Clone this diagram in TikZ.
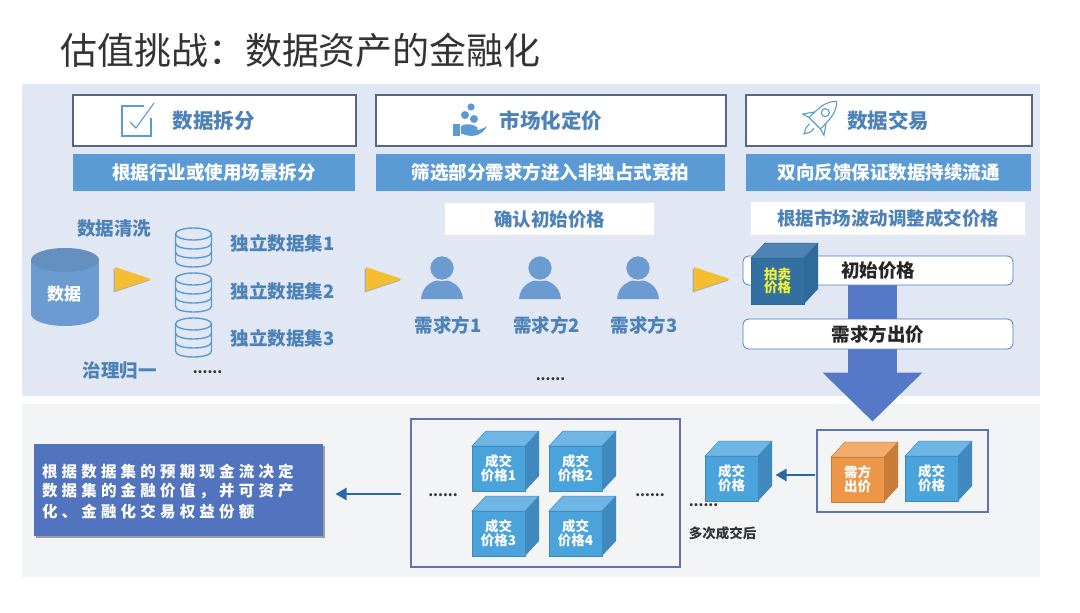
\documentclass[tikz,border=0pt]{standalone}
\usepackage{fontspec}
\setmainfont{Noto Sans CJK SC}
\usetikzlibrary{arrows.meta,shadows}
\definecolor{bandA}{HTML}{E1E7F3}
\definecolor{bandB}{HTML}{F3F4F6}
\definecolor{headline}{HTML}{5A6680}
\definecolor{barblue}{HTML}{5B9BD5}
\definecolor{labelblue}{HTML}{4C82B8}
\definecolor{iconblue}{HTML}{6C9BD2}
\definecolor{goldtri}{HTML}{F5BD30}
\definecolor{bigblue}{HTML}{5579C6}
\definecolor{framec}{HTML}{6272AE}
\definecolor{arrowblue}{HTML}{2A69A8}
\definecolor{cubeF}{HTML}{4BA3DC}
\definecolor{cubeT}{HTML}{6FB5E6}
\definecolor{cubeS}{HTML}{4089BF}
\definecolor{orgF}{HTML}{EE9648}
\definecolor{orgT}{HTML}{F2AC6D}
\definecolor{orgS}{HTML}{C97C38}
\definecolor{aucF}{HTML}{34709F}
\definecolor{aucT}{HTML}{4E84B4}
\definecolor{aucS}{HTML}{2F6A9A}
\definecolor{auctext}{HTML}{F2F23A}
\newcommand{\fsz}[1]{\fontsize{#1}{#1}\selectfont}
\tikzset{
  base/.style={inner sep=0pt,outer sep=0pt},
  headbox/.style={base,draw=headline,line width=1.1pt,fill=white},
  subbar/.style={base,fill=barblue,text=white,font=\bfseries\fsz{18.5}},
  whitebar/.style={base,fill=white,text=labelblue,font=\bfseries\fsz{18.5}},
  headtext/.style={base,text=labelblue,font=\bfseries\fsz{20.5}},
  bluelabel/.style={base,text=labelblue,font=\bfseries\fsz{18.5}},
  dotrow/.style={base,text=black!80,font=\bfseries\fsz{14}},
  pricebox/.style={base,draw=labelblue,line width=.8pt,fill=white,rounded corners=6pt,text=black!85,font=\bfseries\fsz{18.5}},
  frameb/.style={base,draw=framec,line width=1.2pt,fill=none},
  goldarrow/.style={fill=goldtri,drop shadow={shadow xshift=-1.5pt,shadow yshift=-1.5pt,opacity=.25,fill=black}},
  iconline/.style={draw=barblue,line width=1.4pt,fill=none},
  thinarrow/.style={draw=arrowblue,line width=2.4pt,-{Triangle[length=11pt,width=12pt]}},
  cubetext/.style={base,text=white,font=\bfseries\fsz{13.5},align=center},
}
\newcommand{\cubeat}[9]{% name, x0, y0, x1, y1, front, top, side, text
  \node[cubetext,fill=#6,draw=#8,line width=.5pt,minimum width=#4pt-#2pt,minimum height=#5pt-#3pt,anchor=north west] (#1) at (#2,#3) {#9};
  \fill[#7,draw=#8,line width=.5pt] (#1.north west) -- ++(14,-15) -- ++(#4-#2,0) -- (#1.north east) -- cycle;
  \fill[#8] (#1.north east) -- ++(14,-15) -- ++(0,#5-#3) -- (#1.south east) -- cycle;
}
\newcommand{\blucube}[4]{\cubeat{#1}{#2}{#3}{#2+53}{#3+45}{cubeF}{cubeT}{cubeS}{#4}}
\newcommand{\dbicon}[2]{% x centre, y top
  \begin{scope}[shift={(#1,#2)},iconline]
    \draw (0,6) ellipse [x radius=18pt,y radius=6pt];
    \draw (-18,6) -- (-18,33) .. controls (-18,41) and (18,41) .. (18,33) -- (18,6);
    \draw (-18,15) .. controls (-18,23) and (18,23) .. (18,15);
    \draw (-18,24) .. controls (-18,32) and (18,32) .. (18,24);
  \end{scope}
}
\newcommand{\person}[1]{%
  \begin{scope}[shift={(#1,0)}]
    \fill[iconblue] (-21,299) .. controls (-20,287) and (-11,280) .. (0,280) .. controls (11,280) and (20,287) .. (21,299) -- cycle;
    \fill[iconblue,draw=bandA,line width=1.5pt] (0,268) circle [radius=12.5pt];
  \end{scope}
}
\newcommand{\goldtri}[1]{\fill[goldarrow] (#1,267) -- (#1+36,279) -- (#1,291) -- cycle;}
\begin{document}
\begin{tikzpicture}[x=1pt,y=-1pt]
\useasboundingbox (0,0) rectangle (1080,613);
\fill[white] (0,0) rectangle (1080,613);
\node[base,anchor=west,text=black!80,font=\fsz{37}] (title) at (60,50) {估值挑战：数据资产的金融化};
\fill[bandA] (22,84) rectangle (1040,396);
\fill[bandB] (22,404) rectangle (1040,577);

% header boxes
\node[headbox,minimum width=283pt,minimum height=51pt,anchor=north west] (h1) at (73,95) {};
\node[headbox,minimum width=350pt,minimum height=51pt,anchor=north west] (h2) at (376,95) {};
\node[headbox,minimum width=286pt,minimum height=51pt,anchor=north west] (h3) at (746,95) {};
\node[headtext] (h1t) at (213.5,120.5) {数据拆分};
\node[headtext] (h2t) at (551,120.5) {市场化定价};
\node[headtext] (h3t) at (888,120.5) {数据交易};
% check icon
\draw[iconline] (144,106) -- (122,106) -- (122,136) -- (151,136) -- (151,118);
\draw[iconline,line width=1.1pt] (130,122) -- (136,128) -- (154,103);
% hand icon
\fill[barblue] (471,107) circle [radius=3.6pt] (465,115) circle [radius=4pt] (474,119) circle [radius=4pt];
\fill[barblue] (453,124) rectangle (459.5,136);
\fill[barblue] (461,126) .. controls (466,123) and (472,124) .. (477,127) .. controls (479,129) and (477,131) .. (471,130) .. controls (477,131) and (483,129) .. (487,126) .. controls (485,131) and (479,136) .. (472,136) .. controls (468,136) and (464,134) .. (461,134) -- cycle;
% rocket icon
\begin{scope}[shift={(819,119)},rotate=-45,iconline,line width=1.1pt]
  \draw (0,-25) .. controls (8,-17) and (8,-8) .. (8,6) -- (-8,6) .. controls (-8,-8) and (-8,-17) .. (0,-25) -- cycle;
  \draw (0,-9) circle [radius=4pt];
  \draw (-8,-2) -- (-15,8) -- (-8,6);
  \draw (8,-2) -- (15,8) -- (8,6);
  \draw (-3,10) .. controls (-4,15) and (-2,18) .. (0,21) .. controls (2,18) and (4,15) .. (3,10);
\end{scope}

% sub bars
\node[subbar,minimum width=282pt,minimum height=37pt,anchor=north west] (s1) at (73,154) {根据行业或使用场景拆分};
\node[subbar,minimum width=349pt,minimum height=37pt,anchor=north west] (s2) at (376,154) {筛选部分需求方进入非独占式竞拍};
\node[subbar,minimum width=285pt,minimum height=37pt,anchor=north west] (s3) at (746,154) {双向反馈保证数据持续流通};
\node[whitebar,minimum width=209pt,minimum height=32pt,anchor=north west] (w2) at (445,203) {确认初始价格};
\node[whitebar,minimum width=274pt,minimum height=33pt,anchor=north west] (w3) at (751,202) {根据市场波动调整成交价格};

% column 1
\node[bluelabel] (clean) at (114,229) {数据清洗};
\fill[iconblue] (31,260) rectangle (99,314);
\fill[iconblue] (65,314) ellipse [x radius=34pt,y radius=12pt];
\fill[iconblue!92!black] (65,260) ellipse [x radius=34pt,y radius=12pt];
\node[base,text=white,font=\bfseries\fsz{17}] (data) at (64,294) {数据};
\goldtri{115}
\dbicon{193.5}{228}
\dbicon{193.5}{273}
\dbicon{193.5}{318}
\node[bluelabel] (d1) at (282.5,243) {独立数据集1};
\node[bluelabel] (d2) at (282.5,291) {独立数据集2};
\node[bluelabel] (d3) at (282.5,338) {独立数据集3};
\node[bluelabel] (gov) at (119.5,371) {治理归一};
\node[dotrow] (dots1) at (207.5,372) {......};

% column 2
\goldtri{366}
\person{442}
\person{540}
\person{638}
\node[bluelabel] (b1) at (448,325) {需求方1};
\node[bluelabel] (b2) at (546.5,325) {需求方2};
\node[bluelabel] (b3) at (644,325) {需求方3};
\node[dotrow] (dots2) at (550.5,379) {......};

% column 3
\goldtri{694}
\node[base] (bigstart) at (872.5,272) {};
\node[base] (bigend) at (872.5,422) {};
\draw[draw=bigblue,line width=49pt,-{Triangle[length=49pt,width=97pt]}] (bigstart) -- (bigend);
\node[pricebox,minimum width=270pt,minimum height=29pt,anchor=north west] (init) at (743,256) {初始价格};
\node[pricebox,minimum width=270pt,minimum height=30pt,anchor=north west] (bid) at (743,319) {需求方出价};
\begin{scope}[cubetext/.append style={text=auctext}]
\cubeat{auction}{751}{258}{804}{304}{aucF}{aucT}{aucS}{拍卖\\价格}
\end{scope}

% lower band
\node[frameb,minimum width=269pt,minimum height=148pt,anchor=north west] (frameL) at (411,419) {};
\blucube{p1}{472}{446}{成交\\价格1}
\blucube{p2}{549}{446}{成交\\价格2}
\blucube{p3}{472}{511}{成交\\价格3}
\blucube{p4}{549}{511}{成交\\价格4}
\node[dotrow] (dots3) at (443,495) {......};
\node[dotrow] (dots4) at (650,495) {......};
\blucube{deal}{705}{456}{成交\\价格}
\node[dotrow] (dots5) at (703.5,505) {......};
\node[base,text=black!80,font=\bfseries\fsz{13.5}] (after) at (722.5,533) {多次成交后};
\node[frameb,minimum width=171pt,minimum height=82pt,anchor=north west] (frameR) at (817,430) {};
\cubeat{bidcube}{831}{457}{884}{502}{orgF}{orgT}{orgS}{需方\\出价}
\blucube{dealR}{905}{456}{成交\\价格}
\node[base] (arrR) at (815,475) {};
\node[base] (arrRe) at (775,475) {};
\draw[thinarrow] (arrR) -- (arrRe);
\node[base,fill=bigblue!96!black,minimum width=289pt,minimum height=92pt,anchor=north west,drop shadow={shadow xshift=1.5pt,shadow yshift=-2pt,opacity=.35,fill=black}] (sum) at (34,444) {};
\node[base,anchor=west,text=white,align=left,font=\bfseries\fsz{15.5}\addfontfeature{LetterSpace=27}] (sumt) at (42,491.5) {根据数据集的预期现金流决定\\[3.5pt]数据集的金融价值，并可资产\\[3.5pt]化、金融化交易权益份额};
\node[base] (arrL) at (401,494) {};
\node[base] (arrLe) at (335,494) {};
\draw[thinarrow] (arrL) -- (arrLe);
\end{tikzpicture}
\end{document}
